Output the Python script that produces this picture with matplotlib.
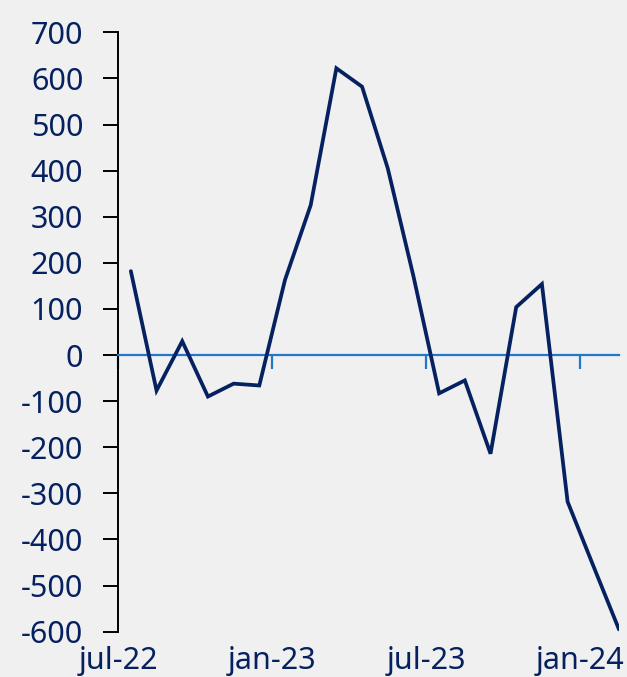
import matplotlib
matplotlib.use('Agg')
import matplotlib.pyplot as plt

# monthly values, jul-22 .. feb-24
values = [182, -77, 30, -90, -62, -66, 163, 325, 622, 582, 405, 171,
          -83, -55, -214, 104, 154, -318, -457, -595]
tick_pos = [0, 6, 12, 18]
tick_labels = ['jul-22', 'jan-23', 'jul-23', 'jan-24']
y_ticks = list(range(-600, 701, 100))

navy = '#06215f'
blue = '#1f78c8'
bg = '#f0f0f0'

plt.rcParams['font.family'] = ['Noto Sans', 'DejaVu Sans']
plt.rcParams['axes.unicode_minus'] = False

fig = plt.figure(figsize=(6.27, 6.77), dpi=100, facecolor=bg)
ax = fig.add_axes([0.1882, 0.0669, 0.7990, 0.8854], facecolor=bg)

x = [i + 0.5 for i in range(len(values))]
ax.plot(x, values, color=navy, lw=2.7, solid_joinstyle='miter',
        solid_capstyle='round', zorder=3)

ax.set_xlim(0, len(values) - 0.5)
ax.set_ylim(-600, 700)
ax.set_yticks(y_ticks)

for s in ['top', 'right']:
    ax.spines[s].set_visible(False)
ax.spines['left'].set_linewidth(1.4)
ax.spines['left'].set_color('black')
ax.spines['bottom'].set_position(('data', 0))
ax.spines['bottom'].set_color(blue)
ax.spines['bottom'].set_linewidth(1.6)

ax.set_xticks(tick_pos)
ax.tick_params(axis='x', direction='out', length=10, width=1.6, color=blue,
               labelbottom=False)
ax.tick_params(axis='y', length=11, width=1.4, color='black', pad=14,
               labelsize=22, labelcolor=navy)

sec = ax.secondary_xaxis('bottom')
sec.spines['bottom'].set_visible(False)
sec.set_xticks(tick_pos)
sec.set_xticklabels(tick_labels)
sec.tick_params(length=0, pad=10, labelsize=22, labelcolor=navy)

fig.savefig('out.png', dpi=100, facecolor=bg)
